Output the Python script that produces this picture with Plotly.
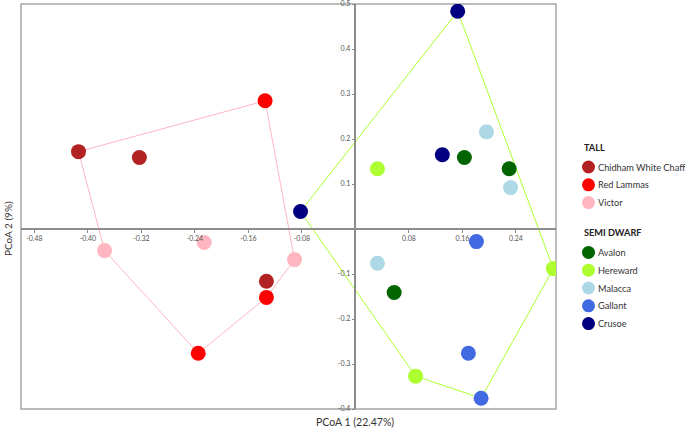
import numpy as np
import plotly.graph_objects as go

# ---- data ----
varieties = ["Chidham White Chaff", "Red Lammas", "Victor",
             "Avalon", "Hereward", "Malacca", "Gallant", "Crusoe"]
groups = ["TALL", "TALL", "TALL",
          "SEMI DWARF", "SEMI DWARF", "SEMI DWARF", "SEMI DWARF", "SEMI DWARF"]
colors = ["#B22222", "#FF0000", "#FFB6C1",
          "#006400", "#ADFF2F", "#ADD8E6", "#4169E1", "#000080"]

pcoa1 = {
    "Chidham White Chaff": [-0.414, -0.323, -0.133],
    "Red Lammas":          [-0.135, -0.133, -0.235],
    "Victor":              [-0.375, -0.226, -0.091],
    "Avalon":              [0.163, 0.230, 0.058],
    "Hereward":            [0.033, 0.296, 0.090],
    "Malacca":             [0.196, 0.232, 0.033],
    "Gallant":             [0.181, 0.169, 0.188],
    "Crusoe":              [0.153, 0.130, -0.082],
}
pcoa2 = {
    "Chidham White Chaff": [0.172, 0.159, -0.116],
    "Red Lammas":          [0.285, -0.152, -0.276],
    "Victor":              [-0.048, -0.030, -0.068],
    "Avalon":              [0.159, 0.134, -0.141],
    "Hereward":            [0.134, -0.088, -0.327],
    "Malacca":             [0.216, 0.092, -0.076],
    "Gallant":             [-0.028, -0.276, -0.376],
    "Crusoe":              [0.484, 0.165, 0.039],
}
hull_colors = {"TALL": "#FFB6C1", "SEMI DWARF": "#ADFF2F"}
group_order = ["TALL", "SEMI DWARF"]

x_ticks = [-0.48, -0.40, -0.32, -0.24, -0.16, -0.08, 0.08, 0.16, 0.24]
x_labels = ["-0.48", "-0.40", "-0.32", "-0.24", "-0.16", "-0.08", "0.08", "0.16", "0.24"]
y_ticks = [0.5, 0.4, 0.3, 0.2, 0.1, -0.1, -0.2, -0.3, -0.4]
y_labels = ["0.5", "0.4", "0.3", "0.2", "0.1", "-0.1", "-0.2", "-0.3", "-0.4"]
x_range = [-0.5, 0.3]
y_range = [-0.4, 0.5001]


def convex_hull(pts):
    pts = sorted(set(pts))
    def cross(o, a, b):
        return (a[0]-o[0])*(b[1]-o[1]) - (a[1]-o[1])*(b[0]-o[0])
    lower, upper = [], []
    for p in pts:
        while len(lower) >= 2 and cross(lower[-2], lower[-1], p) <= 0:
            lower.pop()
        lower.append(p)
    for p in reversed(pts):
        while len(upper) >= 2 and cross(upper[-2], upper[-1], p) <= 0:
            upper.pop()
        upper.append(p)
    hull = lower[:-1] + upper[:-1]
    return hull + [hull[0]]


FONT = "Lato, 'Open Sans', sans-serif"
W, H = 685, 430
M = dict(l=21, r=129, t=4, b=21)
PW, PH = W - M["l"] - M["r"], H - M["t"] - M["b"]


def px2paper(px, py):
    return (px - M["l"]) / PW, (H - M["b"] - py) / PH


fig = go.Figure()

# hulls
for g in group_order:
    pts = []
    for v, gg in zip(varieties, groups):
        if gg == g:
            pts += list(zip(pcoa1[v], pcoa2[v]))
    h = convex_hull(pts)
    fig.add_trace(go.Scatter(x=[p[0] for p in h], y=[p[1] for p in h], mode="lines",
                             line=dict(color=hull_colors[g], width=1),
                             showlegend=False, hoverinfo="skip"))

# points
for v, g, c in zip(varieties, groups, colors):
    fig.add_trace(go.Scatter(x=pcoa1[v], y=pcoa2[v], mode="markers", name=v,
                             showlegend=False,
                             marker=dict(color=c, size=15, line=dict(width=0))))

# legend (built from the category arrays)
shapes = [dict(type="rect", xref="paper", yref="paper", x0=0, x1=1, y0=0, y1=1,
               line=dict(color="#a6a6a6", width=1.5), layer="below")]
annotations = []
LEG_SIZE = 9.2
py = 147
for g in group_order:
    tx, ty = px2paper(582, py)
    annotations.append(dict(text="<b>" + g + "</b>", x=tx, y=ty, xref="paper", yref="paper",
                            xanchor="left", yanchor="middle", showarrow=False,
                            font=dict(size=LEG_SIZE, color="#222", family=FONT)))
    py += 20
    for v, gg, c in zip(varieties, groups, colors):
        if gg != g:
            continue
        mx, my = px2paper(588.5, py)
        shapes.append(dict(type="circle", xref="paper", yref="paper",
                           xsizemode="pixel", ysizemode="pixel", xanchor=mx, yanchor=my,
                           x0=-6.5, x1=6.5, y0=-6.5, y1=6.5,
                           fillcolor=c, line=dict(width=0)))
        lx, ly = px2paper(596, py)
        annotations.append(dict(text=v, x=lx, y=ly, xref="paper", yref="paper",
                                xanchor="left", yanchor="middle", showarrow=False,
                                font=dict(size=LEG_SIZE, color="#333", family=FONT)))
        py += 17.8
    py += 12

annotations += [
    dict(text="PCoA 1 (22.47%)", x=0, y=0, xref="x", yref="paper", yshift=-13,
         xanchor="center", yanchor="middle", showarrow=False,
         font=dict(size=10.5, color="#333", family=FONT)),
    dict(text="PCoA 2 (9%)", x=0, y=0, xref="paper", yref="y", xshift=-13,
         xanchor="center", yanchor="middle", textangle=-90, showarrow=False,
         font=dict(size=10, color="#333", family=FONT)),
]

axis_common = dict(showgrid=False, zeroline=False, showline=True, linecolor="#8c8c8c",
                   linewidth=1.5, ticks="outside", ticklen=3, tickwidth=1, tickcolor="#8c8c8c",
                   automargin=False, ticklabeloverflow="allow",
                   tickfont=dict(size=7, color="#555", family=FONT))

fig.update_layout(
    width=W, height=H,
    margin=M,
    paper_bgcolor="white", plot_bgcolor="white",
    font=dict(family=FONT, size=11, color="#333"),
    showlegend=False,
    xaxis=dict(range=x_range, tickvals=x_ticks, ticktext=x_labels, anchor="free",
               position=(0 - y_range[0]) / (y_range[1] - y_range[0]), **axis_common),
    yaxis=dict(range=y_range, tickvals=y_ticks, ticktext=y_labels, anchor="free",
               position=(0 - x_range[0]) / (x_range[1] - x_range[0]), **axis_common),
    shapes=shapes,
    annotations=annotations,
)

fig.write_html("out.html", config={"displayModeBar": False},
               post_script="document.body.style.margin='0';document.body.style.overflow='hidden';")
